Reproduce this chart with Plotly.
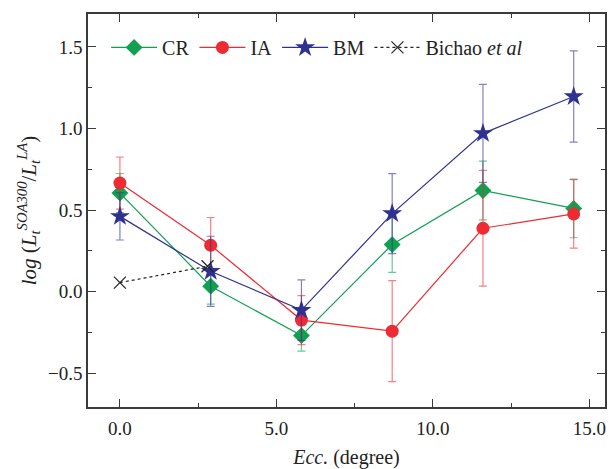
import plotly.graph_objects as go

ecc = [0.0, 2.9, 5.8, 8.7, 11.6, 14.5]

cr = [0.604, 0.033, -0.27, 0.288, 0.62, 0.51]
cr_err = [0.12, 0.11, 0.095, 0.17, 0.18, 0.18]

ia = [0.665, 0.284, -0.175, -0.243, 0.388, 0.476]
ia_err = [0.16, 0.17, 0.15, 0.31, 0.355, 0.21]

bm = [0.461, 0.124, -0.114, 0.478, 0.97, 1.196]
bm_err = [0.145, 0.215, 0.185, 0.245, 0.30, 0.28]

bichao_x = [0.0, 2.8]
bichao_y = [0.055, 0.155]

FONT = "Liberation Serif, Times New Roman, serif"

fig = go.Figure()

def add(name, y, err, color, errcolor, symbol, size):
    fig.add_trace(go.Scatter(
        x=ecc, y=y, name=name, mode="lines+markers",
        line=dict(color=color, width=1.2),
        marker=dict(symbol=symbol, size=size, color=color, line=dict(width=0)),
        error_y=dict(type="data", array=err, visible=True, color=errcolor,
                     thickness=1.2, width=4),
    ))

add("CR", cr, cr_err, "#10a050", "rgba(16,160,80,0.6)", "diamond", 13)
add("IA", ia, ia_err, "#ed2b33", "rgba(237,43,51,0.6)", "circle", 13)
add("BM", bm, bm_err, "#2e3192", "rgba(46,49,146,0.6)", "star", 15)

fig.add_trace(go.Scatter(
    x=bichao_x, y=bichao_y, name="Bichao <i>et al</i>", mode="lines+markers",
    line=dict(color="#222222", width=1.2, dash="dot"),
    marker=dict(symbol="x-thin", size=12, color="#222222", line=dict(width=1.2, color="#222222")),
))

axis_common = dict(
    showline=True, linecolor="#3a3a3a", linewidth=1.5, mirror="ticks",
    ticks="inside", ticklen=8, tickwidth=1.3, tickcolor="#3a3a3a",
    showgrid=False, zeroline=False,
    tickfont=dict(family=FONT, size=19, color="#222"),
)

fig.update_xaxes(
    range=[-1.02, 15.5], tickvals=[0, 5, 10, 15], tickformat=".1f",
    minor=dict(ticks="inside", ticklen=4, tickvals=[2.5, 7.5, 12.5], tickcolor="#3a3a3a"),
    title=dict(text="<i>Ecc.</i> (degree)", font=dict(family=FONT, size=20, color="#222"), standoff=14),
    ticklabelstandoff=3,
    **axis_common,
)
fig.update_yaxes(
    range=[-0.708, 1.702], tickvals=[-0.5, 0, 0.5, 1.0, 1.5], tickformat=".1f",
    minor=dict(ticks="inside", ticklen=4, dtick=0.25, tick0=0, tickcolor="#3a3a3a"),
    title=dict(text="<i>log</i> (<i>L</i><sub><i>t</i></sub><sup><i>SOA300</i></sup>/<i>L</i><sub><i>t</i></sub><sup><i>LA</i></sup>)",
               font=dict(family=FONT, size=21, color="#222"), standoff=6),
    **axis_common,
)

fig.update_layout(
    width=609, height=469,
    margin=dict(l=88, r=2, t=14, b=61),
    paper_bgcolor="white", plot_bgcolor="white",
    font=dict(family=FONT, size=20, color="#222"),
    showlegend=True,
    legend=dict(orientation="h", x=0.035, y=0.915, xanchor="left", yanchor="middle",
                bgcolor="rgba(0,0,0,0)", font=dict(family=FONT, size=20, color="#222"),
                itemwidth=46, tracegroupgap=0),
)

fig.write_html("out.html", config={"displayModeBar": False},
               post_script="document.body.style.margin='0';")
